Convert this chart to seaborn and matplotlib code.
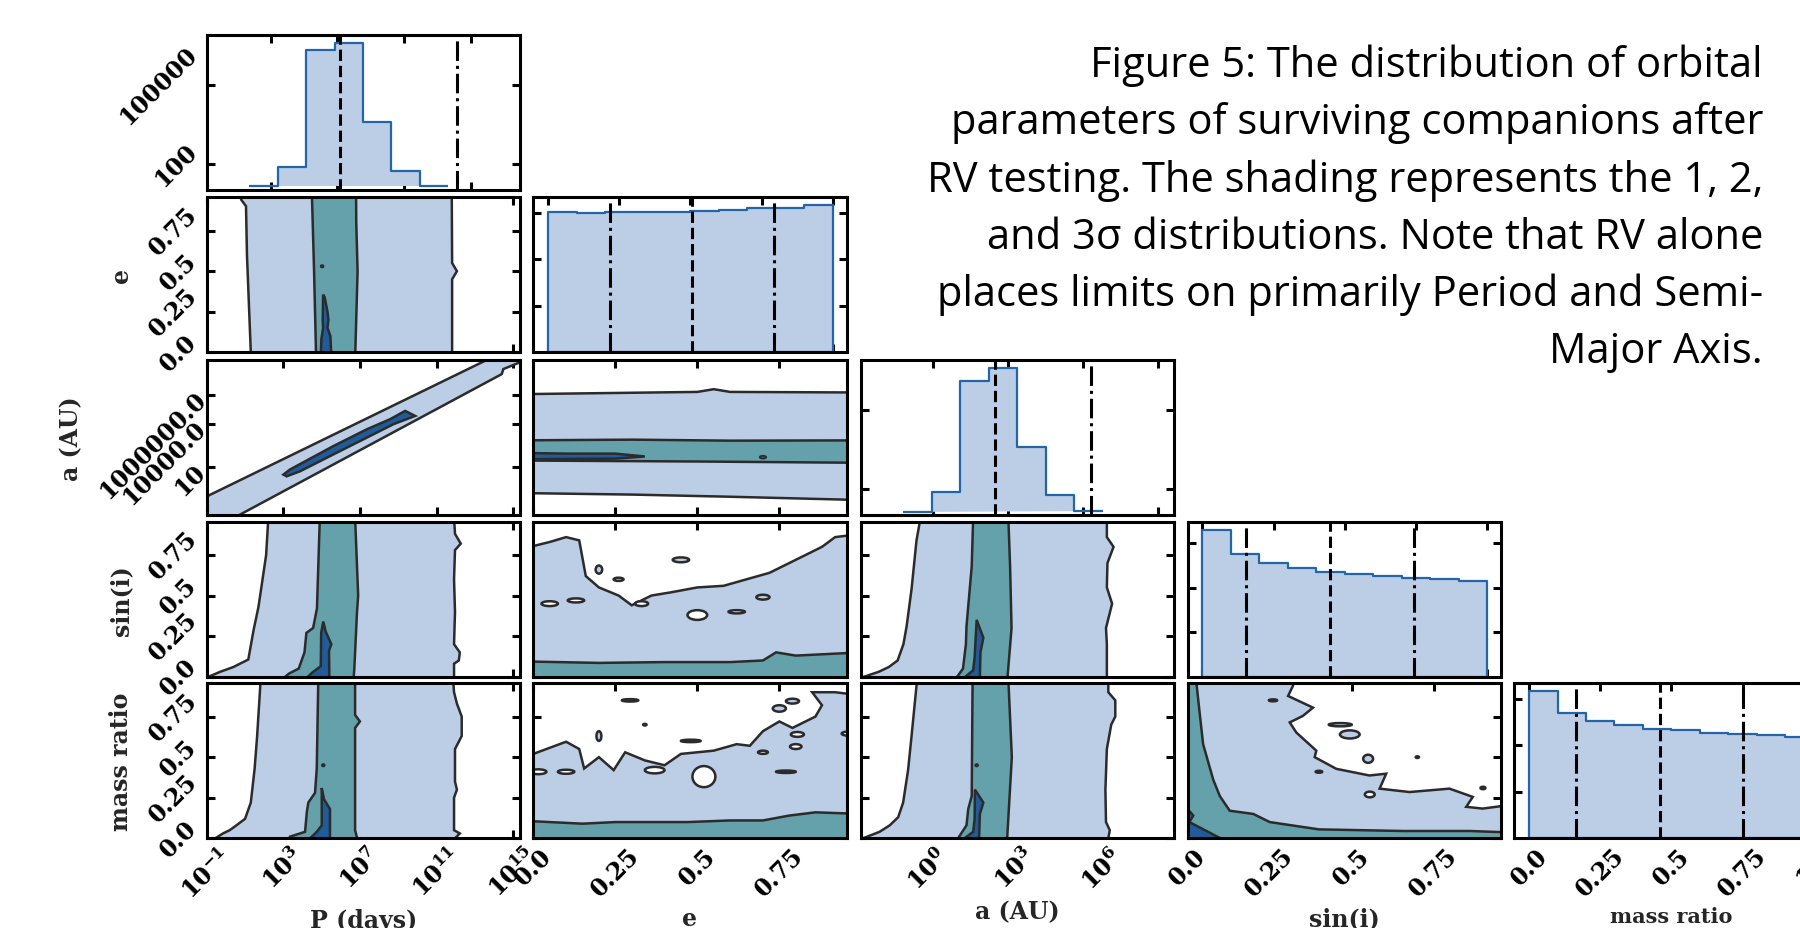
import numpy as np
import matplotlib
matplotlib.use("Agg")
import matplotlib.pyplot as plt
from matplotlib.patches import Ellipse
import seaborn as sns

# ======================= DATA =======================
# ---- marginal histograms ----
P_edges = [1.72, 3.425, 5.13, 6.835, 8.54, 10.245, 11.95, 13.655]      # log10 P [days]
P_counts = [14.5, 81, 1.95e6, 3.8e6, 3800, 54, 15.5]
P_quant = [7.16, 14.19]
P_qstyle = ["--", "-."]

a_edges = [-1.2, -0.06, 1.07, 2.21, 3.35, 4.49, 5.62, 6.79]            # log10 a [AU]
a_counts = [14.5, 81, 1.29e6, 3.72e6, 4070, 62, 16]
a_quant = [2.48, 6.29]
a_qstyle = ["--", "-."]

u_edges = [0.0, 0.1, 0.2, 0.3, 0.4, 0.5, 0.6, 0.7, 0.8, 0.9, 1.0]
e_counts = [3.02e5, 3.00e5, 3.02e5, 3.02e5, 3.02e5, 3.03e5, 3.06e5, 3.10e5, 3.11e5, 3.17e5]
e_quant = [0.218, 0.505, 0.794]
sini_counts = [3.30e5, 2.75e5, 2.56e5, 2.44e5, 2.34e5, 2.30e5, 2.25e5, 2.22e5, 2.20e5, 2.14e5]
sini_quant = [0.153, 0.448, 0.742]
q_counts = [3.17e5, 2.70e5, 2.51e5, 2.43e5, 2.35e5, 2.32e5, 2.27e5, 2.25e5, 2.21e5, 2.18e5]
q_quant = [0.164, 0.459, 0.752]
u_qstyle = ["-.", "--", "-."]

# ---- 2D credible-region edges ----
# e vs P  (x = log10 P, y = e)
eP_s3L = ([-0.05, 0.0, 0.3, 0.6, 0.9, 0.94, 1.0], [1.3, 1.3, 1.2, 1.1, 1.05, 0.8, 0.7])
eP_s3R = ([-0.05, 0.0, 0.45, 0.5, 0.55, 1.0], [11.8, 11.8, 11.8, 12.05, 11.8, 11.78])
eP_s2L = ([-0.05, 0.0, 0.5, 1.0], [4.7, 4.7, 4.6, 4.48])
eP_s2R = ([-0.05, 0.0, 0.5, 0.8, 1.0], [6.75, 6.75, 6.87, 6.8, 6.79])
eP_s1 = ([4.95, 5.5, 5.45, 5.3, 5.35, 5.3, 5.15, 5.07, 5.05, 5.07, 4.98],
         [-0.02, -0.02, 0.1, 0.15, 0.2, 0.25, 0.34, 0.355, 0.2, 0.15, 0.08])
eP_dots = ([5.02], [0.53])

# a vs P  (x = log10 P, y = log10 a)
aP_s3 = ([-2.0, 17.0, 17.0, 15.34, 14.47, 14.39, 0.81, -2.0],
         [-1.68, 10.67, 9.4, 8.3, 7.83, 7.48, -2.24, -4.25])
aP_s1 = ([3.0, 3.34, 5.6, 7.35, 8.56, 9.35, 9.87, 8.73, 7.35, 5.6, 3.87, 3.17],
         [0.49, 0.84, 2.47, 3.64, 4.34, 4.92, 4.57, 3.99, 3.06, 1.89, 0.72, 0.37])

# a vs e  (x = e, y = log10 a)
ae_s3T = ([-0.05, 0.5, 0.55, 0.6, 1.0], [6.08, 6.24, 6.43, 6.24, 6.2])
ae_s3B = ([-0.05, 0.3, 0.6, 1.0], [-0.79, -0.9, -1.05, -1.28])
ae_s2T = ([-0.05, 0.3, 0.6, 1.0], [2.87, 2.92, 2.85, 2.87])
ae_s2B = ([-0.05, 0.5, 1.0], [1.47, 1.4, 1.31])
ae_s1 = ([-0.05, 0.1, 0.25, 0.34, 0.25, 0.1, -0.05], [2.0, 1.95, 1.95, 1.75, 1.6, 1.58, 1.55])
ae_dots = ([0.70], [1.70])

# sin(i) vs P
sP_s3L = ([-0.03, 0.0, 0.03, 0.06, 0.106, 0.29, 0.43, 0.75, 0.95, 0.98],
          [-1.5, -0.9, -0.3, 0.4, 1.17, 1.45, 1.7, 2.1, 2.2, 2.2])
sP_s3R = ([-0.03, 0.08, 0.1, 0.15, 0.2, 0.4, 0.6, 0.78, 0.82, 0.88, 0.98],
          [11.9, 11.9, 12.15, 12.2, 11.9, 11.95, 11.9, 11.95, 12.25, 11.95, 11.9])
sP_s2L = ([-0.03, 0.0, 0.02, 0.05, 0.15, 0.27, 0.3, 0.42, 0.98],
          [3.1, 3.1, 3.3, 3.8, 4.1, 4.2, 4.55, 4.75, 4.9])
sP_s2R = ([-0.03, 0.05, 0.4, 0.5, 0.98], [6.65, 6.7, 6.84, 6.9, 6.74])
sP_s1 = ([5.08, 5.2, 5.5, 5.38, 5.4, 4.1, 4.5, 4.95, 4.97],
         [0.34, 0.28, 0.2, 0.16, -0.02, -0.02, 0.025, 0.065, 0.27])

# mass ratio vs P
qP_s3L = ([-0.03, 0.0, 0.03, 0.05, 0.08, 0.12, 0.22, 0.43, 0.63, 0.95, 0.98],
          [-0.9, -0.55, -0.15, 0.2, 0.55, 1.0, 1.3, 1.5, 1.63, 1.8, 1.8])
qP_s3R = ([-0.03, 0.0, 0.03, 0.05, 0.25, 0.3, 0.35, 0.55, 0.63, 0.75, 0.83, 0.9, 0.98],
          [11.95, 11.95, 12.2, 11.9, 11.9, 12.05, 11.95, 11.95, 12.3, 12.3, 12.05, 11.9, 11.85])
qP_s2L = ([-0.03, 0.01, 0.04, 0.16, 0.22, 0.28, 0.43, 0.98],
          [3.3, 3.34, 4.13, 4.22, 4.3, 4.65, 4.74, 4.82])
qP_s2R = ([-0.03, 0.05, 0.68, 0.72, 0.76, 0.98], [6.91, 6.74, 6.74, 6.99, 6.74, 6.74])
qP_s1 = ([5.0, 5.12, 5.43, 5.43, 4.22, 4.74, 5.0, 5.0],
         [0.31, 0.24, 0.18, -0.02, -0.02, 0.04, 0.08, 0.26])
qP_dots = ([5.08], [0.45])

# sin(i) vs a
sa_s3L = ([-0.03, 0.0, 0.03, 0.06, 0.1, 0.2, 0.31, 0.54, 0.84, 0.95, 0.98],
          [-2.6, -2.2, -1.7, -1.35, -1.05, -0.85, -0.74, -0.57, -0.4, -0.29, -0.27])
sa_s3R = ([-0.03, 0.2, 0.3, 0.45, 0.55, 0.7, 0.8, 0.86, 0.98],
          [6.15, 6.15, 6.12, 6.33, 6.15, 6.17, 6.38, 6.15, 6.15])
sa_s2L = ([-0.03, 0.0, 0.05, 0.2, 0.31, 0.68, 0.98], [1.0, 1.0, 1.2, 1.3, 1.32, 1.5, 1.55])
sa_s2R = ([-0.03, 0.3, 0.68, 0.98], [2.72, 2.87, 2.82, 2.76])
sa_s1 = ([1.67, 1.9, 1.8, 1.78, 1.15, 1.55, 1.6], [0.35, 0.24, 0.15, -0.02, -0.02, 0.04, 0.12])

# mass ratio vs a
qa_s3L = ([-0.03, 0.0, 0.04, 0.08, 0.13, 0.22, 0.42, 0.63, 0.94, 0.98],
          [-2.6, -2.24, -1.67, -1.32, -1.03, -0.86, -0.69, -0.57, -0.4, -0.38])
qa_s3R = ([-0.03, 0.0, 0.05, 0.1, 0.3, 0.55, 0.7, 0.75, 0.85, 0.9, 0.98],
          [6.2, 6.2, 6.25, 6.12, 6.1, 6.15, 6.3, 6.44, 6.44, 6.2, 6.2])
qa_s2L = ([-0.03, 0.0, 0.08, 0.18, 0.26, 0.98], [1.0, 1.03, 1.32, 1.38, 1.5, 1.53])
qa_s2R = ([-0.03, 0.0, 0.5, 0.98], [2.72, 2.72, 2.88, 2.76])
qa_s1 = ([1.61, 1.9, 1.78, 1.75, 1.1, 1.55, 1.6], [0.30, 0.22, 0.15, -0.02, -0.02, 0.04, 0.12])
qa_dots = ([1.67], [0.45])

# sin(i) vs e  (upper edge of regions)
se_s3 = ([-0.05, 0.05, 0.10, 0.14, 0.16, 0.20, 0.26, 0.30, 0.36, 0.42, 0.50, 0.58, 0.65, 0.72,
          0.78, 0.83, 0.88, 0.92, 1.0],
         [0.78, 0.83, 0.86, 0.84, 0.62, 0.55, 0.50, 0.44, 0.50, 0.52, 0.55, 0.56, 0.60, 0.64,
          0.70, 0.75, 0.80, 0.86, 0.88])
se_s2 = ([-0.05, 0.2, 0.4, 0.6, 0.7, 0.74, 0.8, 1.0],
         [0.095, 0.085, 0.09, 0.09, 0.10, 0.15, 0.13, 0.15])
se_isl = ([0.05, 0.13, 0.26, 0.33, 0.50, 0.62, 0.70, 0.45, 0.20],      # x
          [0.45, 0.47, 0.60, 0.45, 0.38, 0.40, 0.49, 0.72, 0.66],      # y
          [0.05, 0.05, 0.03, 0.04, 0.06, 0.05, 0.04, 0.05, 0.02],      # width
          [0.03, 0.025, 0.02, 0.03, 0.06, 0.02, 0.03, 0.03, 0.05],     # height
          [0, 0, 1, 0, 0, 0, 1, 1, 1])                                 # 0 hole, 1 island

# mass ratio vs e
qe_s3 = ([-0.05, 0.0, 0.10, 0.14, 0.155, 0.20, 0.245, 0.28, 0.34, 0.40, 0.45, 0.55, 0.62, 0.66,
          0.70, 0.75, 0.79, 0.86, 0.88, 0.85, 0.92, 1.0],
         [0.52, 0.52, 0.595, 0.55, 0.43, 0.50, 0.42, 0.53, 0.48, 0.45, 0.52, 0.54, 0.58, 0.57,
          0.66, 0.72, 0.68, 0.75, 0.82, 0.90, 0.90, 0.88])
qe_s2 = ([-0.05, 0.15, 0.25, 0.35, 0.47, 0.6, 0.7, 0.78, 0.86, 1.0],
         [0.11, 0.09, 0.10, 0.10, 0.10, 0.11, 0.11, 0.14, 0.16, 0.15])
qe_isl = ([0.015, 0.10, 0.37, 0.52, 0.77, 0.70, 0.805, 0.80, 0.96, 0.20, 0.295, 0.75, 0.79, 0.48, 0.34],
          [0.41, 0.41, 0.42, 0.38, 0.41, 0.53, 0.64, 0.565, 0.645, 0.63, 0.85, 0.80, 0.845, 0.60, 0.70],
          [0.05, 0.05, 0.06, 0.07, 0.06, 0.03, 0.04, 0.035, 0.04, 0.015, 0.05, 0.04, 0.04, 0.06, 0.01],
          [0.03, 0.025, 0.04, 0.13, 0.015, 0.02, 0.03, 0.03, 0.025, 0.06, 0.015, 0.04, 0.03, 0.015, 0.01],
          [0, 0, 0, 0, 0, 0, 0, 0, 0, 1, 1, 1, 1, 1, 1])

# mass ratio vs sin(i)
qs_s3 = ([0.325, 0.321, 0.306, 0.382, 0.351, 0.311, 0.331, 0.392, 0.387, 0.453, 0.554, 0.605,
          0.585, 0.676, 0.798, 0.869, 0.849, 0.899, 1.0],
         [1.0, 0.94, 0.877, 0.805, 0.754, 0.714, 0.652, 0.54, 0.50, 0.428, 0.387, 0.398,
          0.306, 0.285, 0.306, 0.255, 0.194, 0.183, 0.21])
qs_s2 = ([-0.05, 0.027, 0.036, 0.047, 0.078, 0.098, 0.128, 0.2, 0.25, 0.40, 0.656, 0.86, 1.0],
         [1.0, 0.95, 0.78, 0.58, 0.36, 0.26, 0.17, 0.15, 0.10, 0.055, 0.045, 0.045, 0.035])
qs_s1 = ([-0.05, 0.0, 0.017, 0.005, 0.10, 0.10],
         [0.19, 0.18, 0.14, 0.10, 0.0, -0.05])
qs_isl = ([0.26, 0.465, 0.494, 0.55, 0.70, 0.40, 0.555, 0.90],
          [0.85, 0.70, 0.64, 0.49, 0.50, 0.41, 0.27, 0.31],
          [0.025, 0.07, 0.06, 0.03, 0.01, 0.02, 0.03, 0.015],
          [0.012, 0.02, 0.05, 0.05, 0.01, 0.012, 0.035, 0.015],
          [0, 1, 1, 1, 1, 0, 0, 1])

# ---- axes ----
P_lim2d, P_ticks = (-1.0, 15.34), [-1, 3, 7, 11, 15]
P_ticklabels = [r"$10^{-1}$", r"$10^{3}$", r"$10^{7}$", r"$10^{11}$", r"$10^{15}$"]
P_limh, P_hticks = (-0.84, 17.96), [3, 7, 11, 15]
a_lim2d, a_ticks = (-2.32, 8.46), [0, 3, 6]
a_ticklabels = [r"$10^{0}$", r"$10^{3}$", r"$10^{6}$"]
a_yticks, a_yticklabels = [1, 4, 6], ["10", "10000.0", "1000000.0"]
a_limh, a_hticks = (-2.91, 9.63), [0, 3, 6, 9]
u_lim2d, u_ticks = (0.0, 0.955), [0.0, 0.25, 0.5, 0.75]
u_ticklabels = ["0.0", "0.25", "0.5", "0.75"]
u_limh, u_hticks = (-0.052, 1.049), [0.0, 0.25, 0.5, 0.75, 1.0]
u_hticklabels = ["0.0", "0.25", "0.5", "0.75", "1.0"]
logh_lim, logh_ticks, logh_ticklabels = (10 ** 1.036, 10 ** 6.886), [1e2, 1e5], ["100", "100000"]
lin_ticks = [1e5, 2e5, 3e5]

names = ["P (days)", "e", "a (AU)", "sin(i)", "mass ratio"]

caption_lines = [
    "Figure 5: The distribution of orbital",
    "parameters of surviving companions after",
    "RV testing. The shading represents the 1, 2,",
    "and 3\u03c3 distributions. Note that RV alone",
    "places limits on primarily Period and Semi-",
    "Major Axis.",
]

# ======================= STYLE =======================
sns.set_style("white")
plt.rcParams.update({
    "font.family": ["DejaVu Serif"],
    "font.weight": "bold",
    "mathtext.fontset": "custom",
    "mathtext.rm": "DejaVu Serif:bold",
    "mathtext.it": "DejaVu Serif:italic:bold",
    "mathtext.bf": "DejaVu Serif:bold",
    "mathtext.default": "regular",
    "axes.edgecolor": "black",
    "axes.linewidth": 2.2,
    "axes.facecolor": "white",
})

C3 = "#bccde6"     # 3 sigma / histogram fill
C2 = "#65a1aa"     # 2 sigma
C1 = "#1f5c99"     # 1 sigma
HIST_EDGE = "#2366a8"
LINE = "#2b2b2b"
LW = 1.8
TICK_FS = 17
LABEL_FS = 17

fig = plt.figure(figsize=(18, 9.29), dpi=100)
W, H = 1800.0, 929.0
col_left = [206.7, 533.3, 860.7, 1187.7, 1514.3]
row_top = [35.7, 198.3, 361.0, 522.7, 684.3]
pw, ph = 313.3, 155.0

axes = {}
for r in range(5):
    for c in range(r + 1):
        ax = fig.add_axes([col_left[c] / W, 1 - (row_top[r] + ph) / H, pw / W, ph / H])
        axes[(r, c)] = ax


def style(ax):
    ax.tick_params(which="major", direction="in", top=True, right=True, bottom=True, left=True,
                   length=6, width=2.2, labelsize=TICK_FS, colors="black",
                   labelbottom=False, labelleft=False)
    ax.tick_params(which="minor", length=0)
    for s in ax.spines.values():
        s.set_color("black")
        s.set_linewidth(2.2)
        s.set_zorder(10)


def poly(ax, xs, ys, fc, z):
    ax.fill(xs, ys, facecolor=fc, edgecolor=LINE, linewidth=LW, zorder=z)


def vband(ax, left, right, fc, z):
    (ly, lx), (ry, rx) = left, right
    poly(ax, list(lx) + list(rx)[::-1], list(ly) + list(ry)[::-1], fc, z)


def hband(ax, top, bot, fc, z):
    (tx, ty), (bx, by) = top, bot
    poly(ax, list(tx) + list(bx)[::-1], list(ty) + list(by)[::-1], fc, z)


def under(ax, edge, fc, z):
    xs, ys = edge
    poly(ax, [-0.05, -0.05] + list(xs) + [xs[-1]], [-0.05, ys[0]] + list(ys) + [-0.05], fc, z)


def dots(ax, pts, w, h):
    for x, y in zip(*pts):
        ax.add_patch(Ellipse((x, y), w, h, facecolor=C1, edgecolor=LINE, lw=1.2, zorder=6))


def islands(ax, isl):
    for x, y, w, h, k in zip(*isl):
        ax.add_patch(Ellipse((x, y), w, h, facecolor=(C3 if k else "white"),
                             edgecolor=LINE, lw=LW, zorder=3))


def hist(ax, edges, counts, quant, qstyle, logy):
    centers = [(edges[i] + edges[i + 1]) / 2 for i in range(len(counts))]
    sns.histplot(x=centers, weights=counts, bins=edges, element="step", fill=True,
                 ax=ax, facecolor=C3, edgecolor=HIST_EDGE, linewidth=1.6, alpha=1.0,
                 log_scale=(False, True) if logy else False)
    for v, ls in zip(quant, qstyle):
        ax.axvline(v, color="black", ls=ls, lw=2.2, zorder=5)
    ax.set_xlabel("")
    ax.set_ylabel("")


# ---------------- diagonal histograms ----------------
ax = axes[(0, 0)]
hist(ax, P_edges, P_counts, P_quant, P_qstyle, True)
ax.set_xlim(*P_limh); ax.set_xticks(P_hticks)
ax.set_ylim(*logh_lim); ax.set_yticks(logh_ticks); ax.set_yticklabels(logh_ticklabels)

ax = axes[(1, 1)]
hist(ax, u_edges, e_counts, e_quant, u_qstyle, False)
ax.set_xlim(*u_limh); ax.set_xticks(u_hticks)
ax.set_ylim(0, 3.333e5); ax.set_yticks(lin_ticks)

ax = axes[(2, 2)]
hist(ax, a_edges, a_counts, a_quant, a_qstyle, True)
ax.set_xlim(*a_limh); ax.set_xticks(a_hticks)
ax.set_ylim(*logh_lim); ax.set_yticks(logh_ticks)

ax = axes[(3, 3)]
hist(ax, u_edges, sini_counts, sini_quant, u_qstyle, False)
ax.set_xlim(*u_limh); ax.set_xticks(u_hticks)
ax.set_ylim(0, 3.48e5); ax.set_yticks(lin_ticks)

ax = axes[(4, 4)]
hist(ax, u_edges, q_counts, q_quant, u_qstyle, False)
ax.set_xlim(*u_limh); ax.set_xticks(u_hticks)
ax.set_ylim(0, 3.33e5); ax.set_yticks(lin_ticks)

# ---------------- 2D panels ----------------
ax = axes[(1, 0)]
vband(ax, eP_s3L, eP_s3R, C3, 1); vband(ax, eP_s2L, eP_s2R, C2, 4)
poly(ax, *eP_s1, C1, 5); dots(ax, eP_dots, 0.15, 0.015)

ax = axes[(2, 0)]
poly(ax, *aP_s3, C3, 1); poly(ax, *aP_s1, C1, 5)

ax = axes[(2, 1)]
hband(ax, ae_s3T, ae_s3B, C3, 1); hband(ax, ae_s2T, ae_s2B, C2, 4)
poly(ax, *ae_s1, C1, 5); dots(ax, ae_dots, 0.02, 0.2)

ax = axes[(3, 0)]
vband(ax, sP_s3L, sP_s3R, C3, 1); vband(ax, sP_s2L, sP_s2R, C2, 4); poly(ax, *sP_s1, C1, 5)

ax = axes[(4, 0)]
vband(ax, qP_s3L, qP_s3R, C3, 1); vband(ax, qP_s2L, qP_s2R, C2, 4); poly(ax, *qP_s1, C1, 5)
dots(ax, qP_dots, 0.15, 0.015)

ax = axes[(3, 2)]
vband(ax, sa_s3L, sa_s3R, C3, 1); vband(ax, sa_s2L, sa_s2R, C2, 4); poly(ax, *sa_s1, C1, 5)

ax = axes[(4, 2)]
vband(ax, qa_s3L, qa_s3R, C3, 1); vband(ax, qa_s2L, qa_s2R, C2, 4); poly(ax, *qa_s1, C1, 5)
dots(ax, qa_dots, 0.1, 0.015)

ax = axes[(3, 1)]
under(ax, se_s3, C3, 1); islands(ax, se_isl); under(ax, se_s2, C2, 4)

ax = axes[(4, 1)]
under(ax, qe_s3, C3, 1); islands(ax, qe_isl); under(ax, qe_s2, C2, 4)

ax = axes[(4, 3)]
under(ax, qs_s3, C3, 1); islands(ax, qs_isl); under(ax, qs_s2, C2, 4); under(ax, qs_s1, C1, 5)

# ---------------- limits / ticks ----------------
xinfo = {0: (P_lim2d, P_ticks, P_ticklabels), 1: (u_lim2d, u_ticks, u_ticklabels),
         2: (a_lim2d, a_ticks, a_ticklabels), 3: (u_lim2d, u_ticks, u_ticklabels)}
yinfo = {1: (u_lim2d, u_ticks, u_ticklabels), 2: (a_lim2d, a_ticks, a_ticklabels),
         3: (u_lim2d, u_ticks, u_ticklabels), 4: (u_lim2d, u_ticks, u_ticklabels)}

for (r, c), ax in axes.items():
    style(ax)
    if r != c:
        xl, xt, xtl = xinfo[c]
        yl, yt, ytl = yinfo[r]
        ax.set_xlim(*xl); ax.set_xticks(xt)
        ax.set_ylim(*yl)
        if r == 2 and c == 0:
            ax.set_yticks(a_yticks)
        else:
            ax.set_yticks(yt)
        if r == 4:
            ax.tick_params(labelbottom=True)
            ax.set_xticklabels(xtl, rotation=45, fontweight="bold")
        if c == 0:
            ax.tick_params(labelleft=True)
            if r == 2:
                ax.set_yticklabels(a_yticklabels, rotation=45, fontweight="bold",
                                   ha="right", va="center", rotation_mode="anchor")
            else:
                ax.set_yticklabels(ytl, rotation=45, va="center", fontweight="bold")
            ax.set_ylabel(names[r], fontsize=LABEL_FS, fontweight="bold", labelpad=8)
        if r == 4:
            ax.set_xlabel(names[c], fontsize=LABEL_FS, fontweight="bold", labelpad=4)

ax = axes[(0, 0)]
ax.tick_params(labelleft=True)
ax.set_yticklabels(logh_ticklabels, rotation=45, va="center", fontweight="bold")
ax = axes[(4, 4)]
ax.tick_params(labelbottom=True)
ax.set_xticklabels(u_hticklabels, rotation=45, fontweight="bold")
ax.set_xlabel(names[4], fontsize=15, fontweight="bold", labelpad=4)

# ---------------- caption ----------------
base0, pitch = 77.3, 57.1
for i, line in enumerate(caption_lines):
    fig.text(1763 / W, 1 - (base0 + i * pitch) / H, line, ha="right", va="baseline",
             fontsize=30, fontweight="normal", family=["Open Sans", "DejaVu Sans"], color="black")

fig.savefig("out.png", dpi=100)
